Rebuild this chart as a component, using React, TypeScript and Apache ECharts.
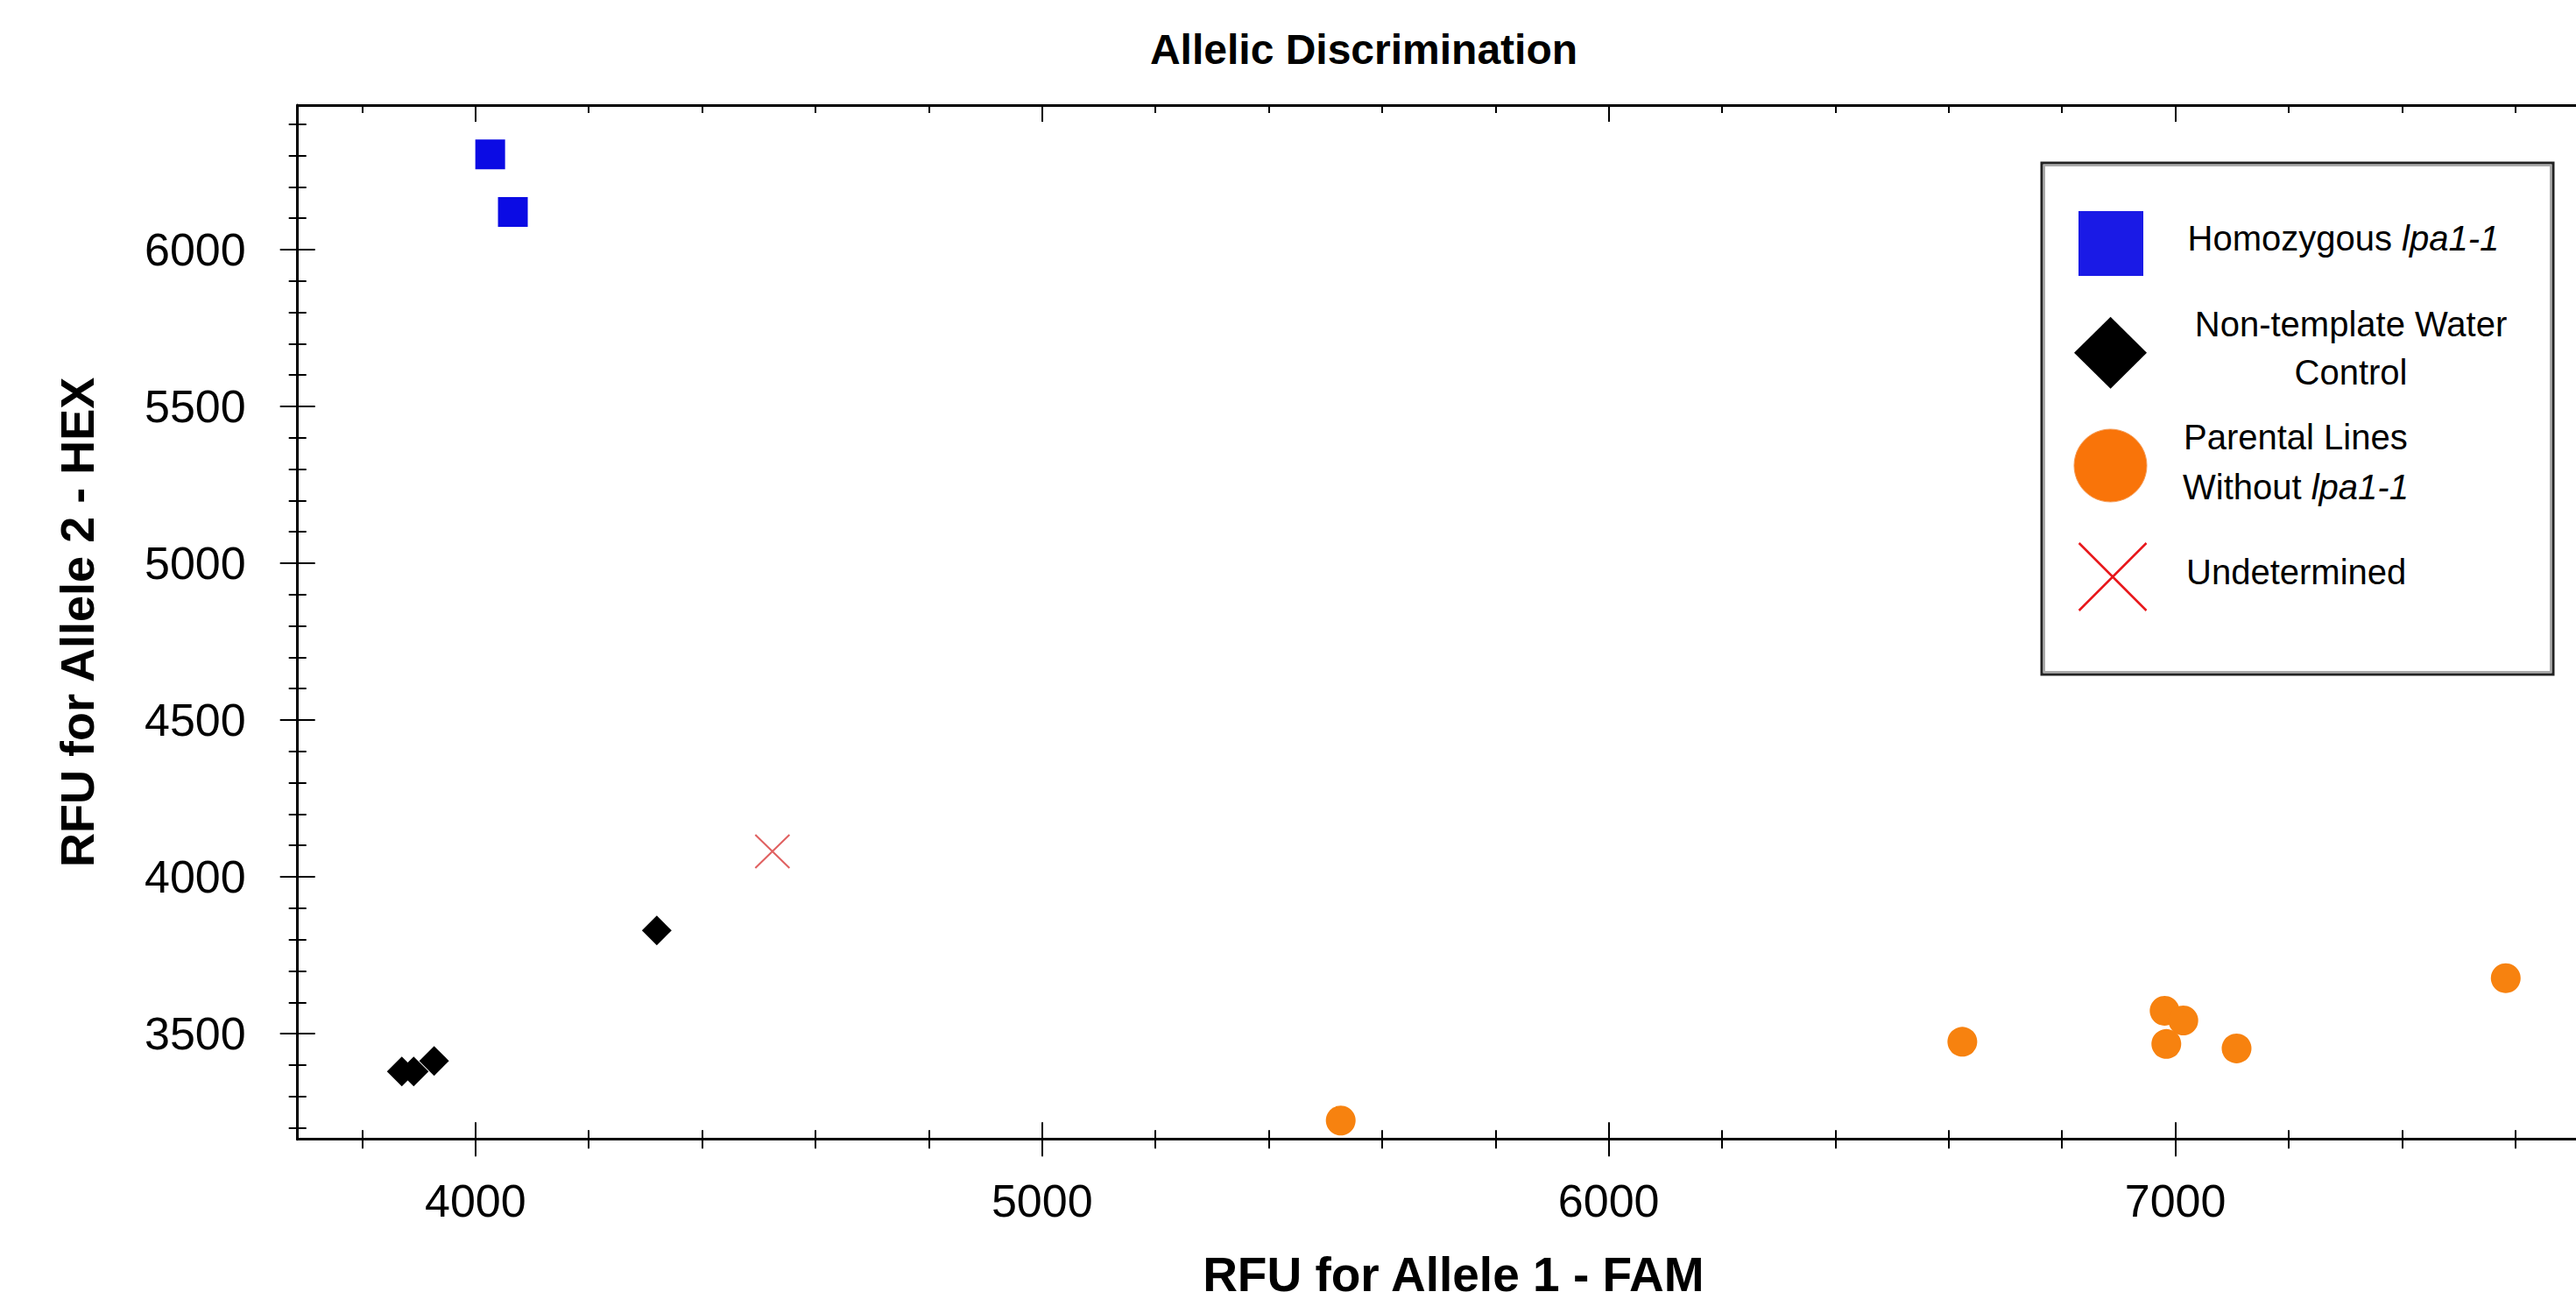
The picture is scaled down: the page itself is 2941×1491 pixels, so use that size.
import React, { useEffect, useRef } from "react";
import * as echarts from "echarts";

const FONT = "'Liberation Sans', Arial, sans-serif";

const X_MIN = 3686;
const X_MAX = 7707;
const Y_MIN = 3163;
const Y_MAX = 6461;

const xMajorTicks = [4000, 5000, 6000, 7000];
const xMinorTicks = [3800, 4200, 4400, 4600, 4800, 5200, 5400, 5600, 5800, 6200, 6400, 6600, 6800, 7200, 7400, 7600];
const yMajorTicks = [3500, 4000, 4500, 5000, 5500, 6000];
const yMinorTicks = [3200, 3300, 3400, 3600, 3700, 3800, 3900, 4100, 4200, 4300, 4400, 4600, 4700, 4800, 4900, 5100, 5200, 5300, 5400, 5600, 5700, 5800, 5900, 6100, 6200, 6300, 6400];

const homozygousX = [4026, 4066];
const homozygousY = [6304, 6120];
const waterX = [3870, 3891, 3927, 4320];
const waterY = [3379, 3379, 3413, 3829];
const parentalX = [5527, 6624, 6981, 7014, 6984, 7108, 7583];
const parentalY = [3223, 3474, 3573, 3542, 3467, 3453, 3677];
const undeterminedX = [4524];
const undeterminedY = [4081];

const zip = (xs: number[], ys: number[]) => xs.map((x, i) => [x, ys[i]]);

export default function App() {
  const ref = useRef<HTMLDivElement>(null);
  useEffect(() => {
    if (!ref.current) return;
    const chart = echarts.init(ref.current, null, { renderer: "svg" });

    const tickAxisBase = (pos: string, min: number, max: number) => ({
      type: "value",
      position: pos,
      min,
      max,
      axisLine: { show: false },
      axisLabel: { show: false },
      splitLine: { show: false },
    });

    const legendText = (x: number, y: number, text: string, align: string) => ({
      type: "text",
      x,
      y,
      style: {
        text,
        fill: "#000",
        font: `40px ${FONT}`,
        fontSize: 40,
        fontFamily: FONT,
        textAlign: align,
        textVerticalAlign: "middle",
        rich: {
          i: { fontStyle: "italic", fontSize: 40, fontFamily: FONT, fill: "#000" },
        },
      },
    });

    const plain = (v: number) => String(v);

    const option: any = {
      animation: false,
      backgroundColor: "#ffffff",
      title: {
        text: "Allelic Discrimination",
        left: 1557,
        top: 32,
        padding: 0,
        textAlign: "center",
        textStyle: { fontSize: 48, fontWeight: "bold", color: "#000", fontFamily: FONT },
      },
      grid: {
        left: 339.7,
        top: 120,
        right: 0,
        bottom: 190.3,
        containLabel: false,
        outerBoundsMode: "none",
      },
      xAxis: [
        {
          type: "value",
          position: "bottom",
          min: X_MIN,
          max: X_MAX,
          axisLine: { show: true, onZero: false, lineStyle: { color: "#000", width: 3 } },
          axisTick: { show: false },
          axisLabel: {
            customValues: xMajorTicks,
            formatter: plain,
            fontSize: 52,
            color: "#000",
            margin: 44,
            fontFamily: FONT,
          },
          splitLine: { show: false },
          name: "RFU for Allele 1 - FAM",
          nameLocation: "middle",
          nameGap: 134,
          nameMoveOverlap: false,
          nameTextStyle: {
            fontSize: 55,
            lineHeight: 40,
            fontWeight: "bold",
            color: "#000",
            fontFamily: FONT,
            padding: [0, 0, 0, 38],
          },
        },
        {
          ...tickAxisBase("bottom", X_MIN, X_MAX),
          offset: 19.5,
          axisTick: { show: true, inside: true, length: 39, customValues: xMajorTicks, lineStyle: { color: "#000", width: 2 } },
        },
        {
          ...tickAxisBase("bottom", X_MIN, X_MAX),
          offset: 10.5,
          axisTick: { show: true, inside: true, length: 21, customValues: xMinorTicks, lineStyle: { color: "#000", width: 2 } },
        },
        {
          ...tickAxisBase("top", X_MIN, X_MAX),
          axisLine: { show: true, onZero: false, lineStyle: { color: "#000", width: 3 } },
          axisTick: { show: true, inside: true, length: 19, customValues: xMajorTicks, lineStyle: { color: "#000", width: 2 } },
        },
        {
          ...tickAxisBase("top", X_MIN, X_MAX),
          axisTick: { show: true, inside: true, length: 9, customValues: xMinorTicks, lineStyle: { color: "#000", width: 2 } },
        },
      ],
      yAxis: [
        {
          type: "value",
          position: "left",
          min: Y_MIN,
          max: Y_MAX,
          axisLine: { show: true, onZero: false, lineStyle: { color: "#000", width: 3 } },
          axisTick: { show: false },
          axisLabel: {
            customValues: yMajorTicks,
            formatter: plain,
            fontSize: 52,
            color: "#000",
            margin: 59,
            fontFamily: FONT,
          },
          splitLine: { show: false },
          name: "RFU for Allele 2 - HEX",
          nameLocation: "middle",
          nameGap: 225,
          nameMoveOverlap: false,
          nameTextStyle: { fontSize: 54, lineHeight: 54, fontWeight: "bold", color: "#000", fontFamily: FONT },
        },
        {
          ...tickAxisBase("left", Y_MIN, Y_MAX),
          offset: 20,
          axisTick: { show: true, inside: true, length: 40, customValues: yMajorTicks, lineStyle: { color: "#000", width: 2 } },
        },
        {
          ...tickAxisBase("left", Y_MIN, Y_MAX),
          offset: 10,
          axisTick: { show: true, inside: true, length: 20, customValues: yMinorTicks, lineStyle: { color: "#000", width: 2 } },
        },
      ],
      series: [
        {
          name: "Homozygous lpa1-1",
          type: "scatter",
          xAxisIndex: 0,
          yAxisIndex: 0,
          symbol: "rect",
          symbolSize: 34,
          itemStyle: { color: "#0b0be4", opacity: 1 },
          data: zip(homozygousX, homozygousY),
        },
        {
          name: "Non-template Water Control",
          type: "scatter",
          xAxisIndex: 0,
          yAxisIndex: 0,
          symbol: "diamond",
          symbolSize: [34, 34],
          itemStyle: { color: "#000000", opacity: 1 },
          data: zip(waterX, waterY),
        },
        {
          name: "Parental Lines Without lpa1-1",
          type: "scatter",
          xAxisIndex: 0,
          yAxisIndex: 0,
          symbol: "circle",
          symbolSize: 34,
          itemStyle: { color: "#f7820f", opacity: 1 },
          data: zip(parentalX, parentalY),
        },
        {
          name: "Undetermined",
          type: "scatter",
          xAxisIndex: 0,
          yAxisIndex: 0,
          symbol: "path://M0,0L10,10M10,0L0,10",
          symbolSize: [39, 38],
          itemStyle: { color: "rgba(0,0,0,0)", borderColor: "#e06060", borderWidth: 2, opacity: 1 },
          data: zip(undeterminedX, undeterminedY),
        },
      ],
      graphic: [
        {
          type: "rect",
          shape: { x: 2331, y: 186, width: 584, height: 584 },
          style: { fill: "#ffffff", stroke: "#222", lineWidth: 3 },
          z: 100,
        },
        {
          type: "rect",
          shape: { x: 2334, y: 189, width: 578, height: 578 },
          style: { fill: "none", stroke: "#aaa", lineWidth: 2 },
          z: 100,
        },
        {
          type: "rect",
          shape: { x: 2373, y: 241, width: 74, height: 74 },
          style: { fill: "#1a1ae6" },
          z: 101,
        },
        {
          type: "polygon",
          shape: { points: [[2409.6, 361.7], [2451, 402.7], [2409.6, 443.7], [2368, 402.7]] },
          style: { fill: "#000" },
          z: 101,
        },
        {
          type: "circle",
          shape: { cx: 2409.5, cy: 531.5, r: 41.5 },
          style: { fill: "#f97409", stroke: "#f59a55", lineWidth: 1 },
          z: 101,
        },
        {
          type: "line",
          shape: { x1: 2373.6, y1: 620, x2: 2450.5, y2: 697 },
          style: { stroke: "#e8161a", lineWidth: 2.5 },
          z: 101,
        },
        {
          type: "line",
          shape: { x1: 2450.5, y1: 620, x2: 2373.6, y2: 697 },
          style: { stroke: "#e8161a", lineWidth: 2.5 },
          z: 101,
        },
        { ...legendText(2497.5, 272, "Homozygous {i|lpa1-1}", "left"), z: 102 },
        { ...legendText(2684, 370, "Non-template Water", "center"), z: 102 },
        { ...legendText(2684, 425, "Control", "center"), z: 102 },
        { ...legendText(2493, 499, "Parental Lines", "left"), z: 102 },
        { ...legendText(2492, 556, "Without {i|lpa1-1}", "left"), z: 102 },
        { ...legendText(2496, 653, "Undetermined", "left"), z: 102 },
      ],
    };

    chart.setOption(option);
    return () => chart.dispose();
  }, []);

  return (
    <div
      ref={ref}
      style={{ position: "absolute", left: 0, top: 0, width: 2941, height: 1491, background: "#fff" }}
    />
  );
}
